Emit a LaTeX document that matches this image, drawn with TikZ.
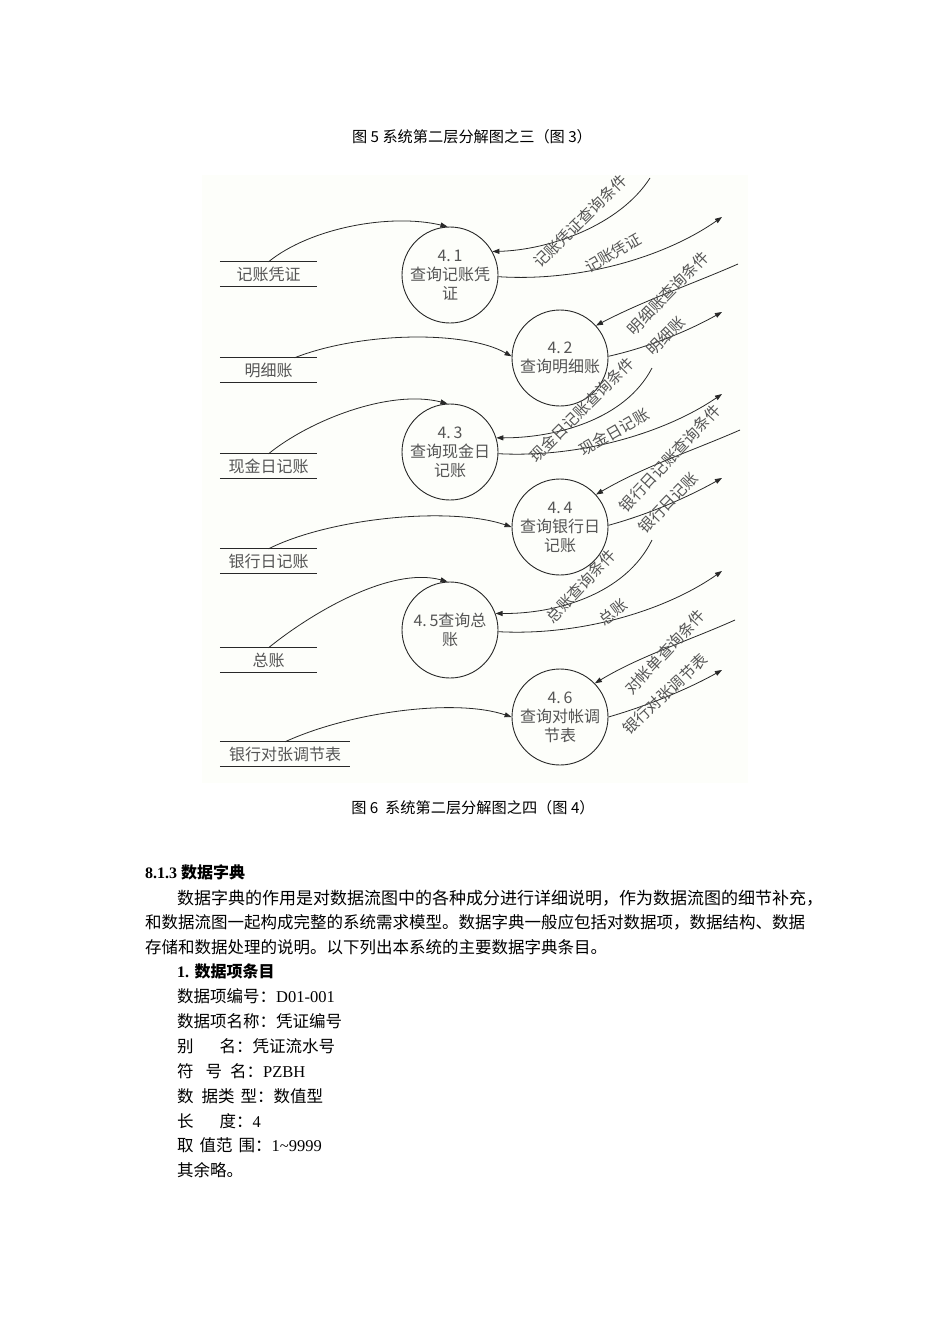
\documentclass[tikz,border=0pt]{standalone}
\usepackage{fontspec}
\setmainfont{Liberation Serif}
\newfontfamily\cjk{Noto Sans CJK SC}
\usetikzlibrary{arrows.meta}
\definecolor{bgpic}{RGB}{253,254,250}
\definecolor{ink}{RGB}{40,40,40}
\definecolor{gtext}{RGB}{85,85,85}
\tikzset{
  proc/.style={circle, draw=ink, line width=0.9pt, minimum size=96pt, inner sep=0pt,
    align=center, text=gtext, font=\cjk\fontsize{16}{19}\selectfont},
  storebox/.style={minimum width=97pt, minimum height=24pt, inner sep=0pt, text=gtext,
    font=\cjk\fontsize{16}{16}\selectfont},
  storeline/.style={draw=ink, line width=0.9pt},
  flow/.style={draw=ink, line width=0.8pt, -{Triangle[length=7pt,width=5pt]}},
  lbl/.style={inner sep=0pt, text=gtext, font=\cjk\fontsize{15.5}{15.5}\selectfont},
  captext/.style={inner sep=0pt, font=\cjk\fontsize{15.2}{15.2}\selectfont},
  body/.style={inner sep=0pt, anchor=west, font=\cjk\fontsize{16.5}{16.5}\selectfont},
}
\begin{document}
\begin{tikzpicture}[x=1pt,y=-1pt]
\useasboundingbox (0,0) rectangle (950,1344);
\fill[white] (0,0) rectangle (950,1344);
\fill[bgpic] (202,175) rectangle (748,783);

% captions
\node[captext] (cap1) at (472,137) {图 5 系统第二层分解图之三（图 3）};
\node[captext] (cap2) at (473,808) {图 6 \ 系统第二层分解图之四（图 4）};

% stores
\node[storebox] (s1) at (268.5,274) {记账凭证};
\node[storebox] (s2) at (268.5,370) {明细账};
\node[storebox] (s3) at (268.5,466) {现金日记账};
\node[storebox] (s4) at (268.5,561) {银行日记账};
\node[storebox] (s5) at (268.5,660) {总账};
\node[storebox, minimum width=130pt] (s6) at (285,754) {银行对张调节表};
\foreach \s in {s1,s2,s3,s4,s5,s6}{
  \draw[storeline] (\s.north west) -- (\s.north east);
  \draw[storeline] (\s.south west) -- (\s.south east);
}

% processes
\node[proc] (p1) at (450,275) {4.\,1\\查询记账凭\\证};
\node[proc] (p2) at (560,358) {4.\,2\\查询明细账};
\node[proc] (p3) at (450,452) {4.\,3\\查询现金日\\记账};
\node[proc] (p4) at (560,527) {4.\,4\\查询银行日\\记账};
\node[proc] (p5) at (450,630) {4.\,5查询总\\账};
\node[proc] (p6) at (560,717) {4.\,6\\查询对帐调\\节表};

% free ends
\coordinate (q1) at (650,178);
\coordinate (o1) at (722,217);
\coordinate (q2) at (738,264);
\coordinate (o2) at (722,312);
\coordinate (q3) at (652,368);
\coordinate (o3) at (722,394);
\coordinate (q4) at (740,430);
\coordinate (o4) at (722,478);
\coordinate (q5) at (652,540);
\coordinate (o5) at (722,571);
\coordinate (q6) at (735,620);
\coordinate (o6) at (722,670);

% store -> process
\draw[flow] (s1.north) .. controls (310,228) and (390,213) .. (p1.93);
\draw[flow] ([xshift=26pt]s2.north) .. controls (360,332) and (465,330) .. (p2.178);
\draw[flow] (s3.north) .. controls (310,420) and (390,389) .. (p3.93);
\draw[flow] (s4.north) .. controls (330,518) and (450,506) .. (p4.180);
\draw[flow] (s5.north) .. controls (310,614) and (390,566) .. (p5.93);
\draw[flow] (s6.north) .. controls (350,712) and (455,698) .. (p6.180);

% query -> process
\draw[flow] (q1) .. controls (620,225) and (550,250) .. (p1.29);
\draw[flow] (q2) .. controls (690,285) and (645,300) .. (p2.42);
\draw[flow] (q3) .. controls (625,420) and (555,438) .. (p3.17);
\draw[flow] (q4) .. controls (692,451) and (645,466) .. (p4.42);
\draw[flow] (q5) .. controls (625,595) and (555,614) .. (p5.20);
\draw[flow] (q6) .. controls (688,641) and (640,656) .. (p6.44);

% process -> out
\draw[flow] (p1.358) .. controls (580,282) and (665,257) .. (o1);
\draw[flow] (p2.2) .. controls (650,347) and (690,330) .. (o2);
\draw[flow] (p3.358) .. controls (580,458) and (665,433) .. (o3);
\draw[flow] (p4.2) .. controls (650,514) and (690,496) .. (o4);
\draw[flow] (p5.358) .. controls (580,636) and (665,611) .. (o5);
\draw[flow] (p6.0) .. controls (650,705) and (690,688) .. (o6);

% labels
\node[lbl, rotate=45] (l1) at (580,221) {记账凭证查询条件};
\node[lbl, rotate=30] (l2) at (613,253) {记账凭证};
\node[lbl, rotate=46] (l3) at (668,293) {明细账查询条件};
\node[lbl, rotate=45] (l4) at (666,336) {明细账};
\node[lbl, rotate=45] (l5) at (582,410) {现金日记账查询条件};
\node[lbl, rotate=30] (l6) at (614,432) {现金日记账};
\node[lbl, rotate=47] (l7) at (670,458) {银行日记账查询条件};
\node[lbl, rotate=46] (l8) at (668,503) {银行日记账};
\node[lbl, rotate=47] (l9) at (581,586) {总账查询条件};
\node[lbl, rotate=37] (l10) at (613,612) {总账};
\node[lbl, rotate=47] (l11) at (665,652) {对帐单查询条件};
\node[lbl, rotate=43] (l12) at (665,694) {银行对张调节表};

% body text
\node[body, font=\cjk\bfseries\fontsize{16}{16}\selectfont] (h1) at (145,872) {{\fontspec{Liberation Serif}\bfseries 8.1.3 }数据字典};
\node[body, font=\cjk\fontsize{17}{17}\selectfont] (t1) at (177,898) {数据字典的作用是对数据流图中的各种成分进行详细说明，作为数据流图的细节补充，};
\node[body] (t2) at (145,922) {和数据流图一起构成完整的系统需求模型。数据字典一般应包括对数据项，数据结构、数据};
\node[body] (t3) at (145,947) {存储和数据处理的说明。以下列出本系统的主要数据字典条目。};
\node[body, font=\cjk\bfseries\fontsize{16}{16}\selectfont] (h2) at (177,971) {{\fontspec{Liberation Serif}\bfseries 1. }数据项条目};
\node[body] (e1) at (177,996) {数据项编号：{\fontspec{Liberation Serif}D01-001}};
\node[body] (e2) at (177,1021) {数据项名称：凭证编号};
\node[body] (e3) at (177,1046) {别\hspace{26pt}名：凭证流水号};
\node[body] (e4) at (177,1071) {符\hspace{12pt}号\hspace{8pt}名：{\fontspec{Liberation Serif}PZBH}};
\node[body] (e5) at (177,1096) {数\hspace{8pt}据类\hspace{6pt}型：数值型};
\node[body] (e6) at (177,1121) {长\hspace{26pt}度：{\fontspec{Liberation Serif}4}};
\node[body] (e7) at (177,1145) {取\hspace{6pt}值范\hspace{6pt}围：{\fontspec{Liberation Serif}1\textasciitilde9999}};
\node[body] (e8) at (177,1170) {其余略。};
\end{tikzpicture}
\end{document}
